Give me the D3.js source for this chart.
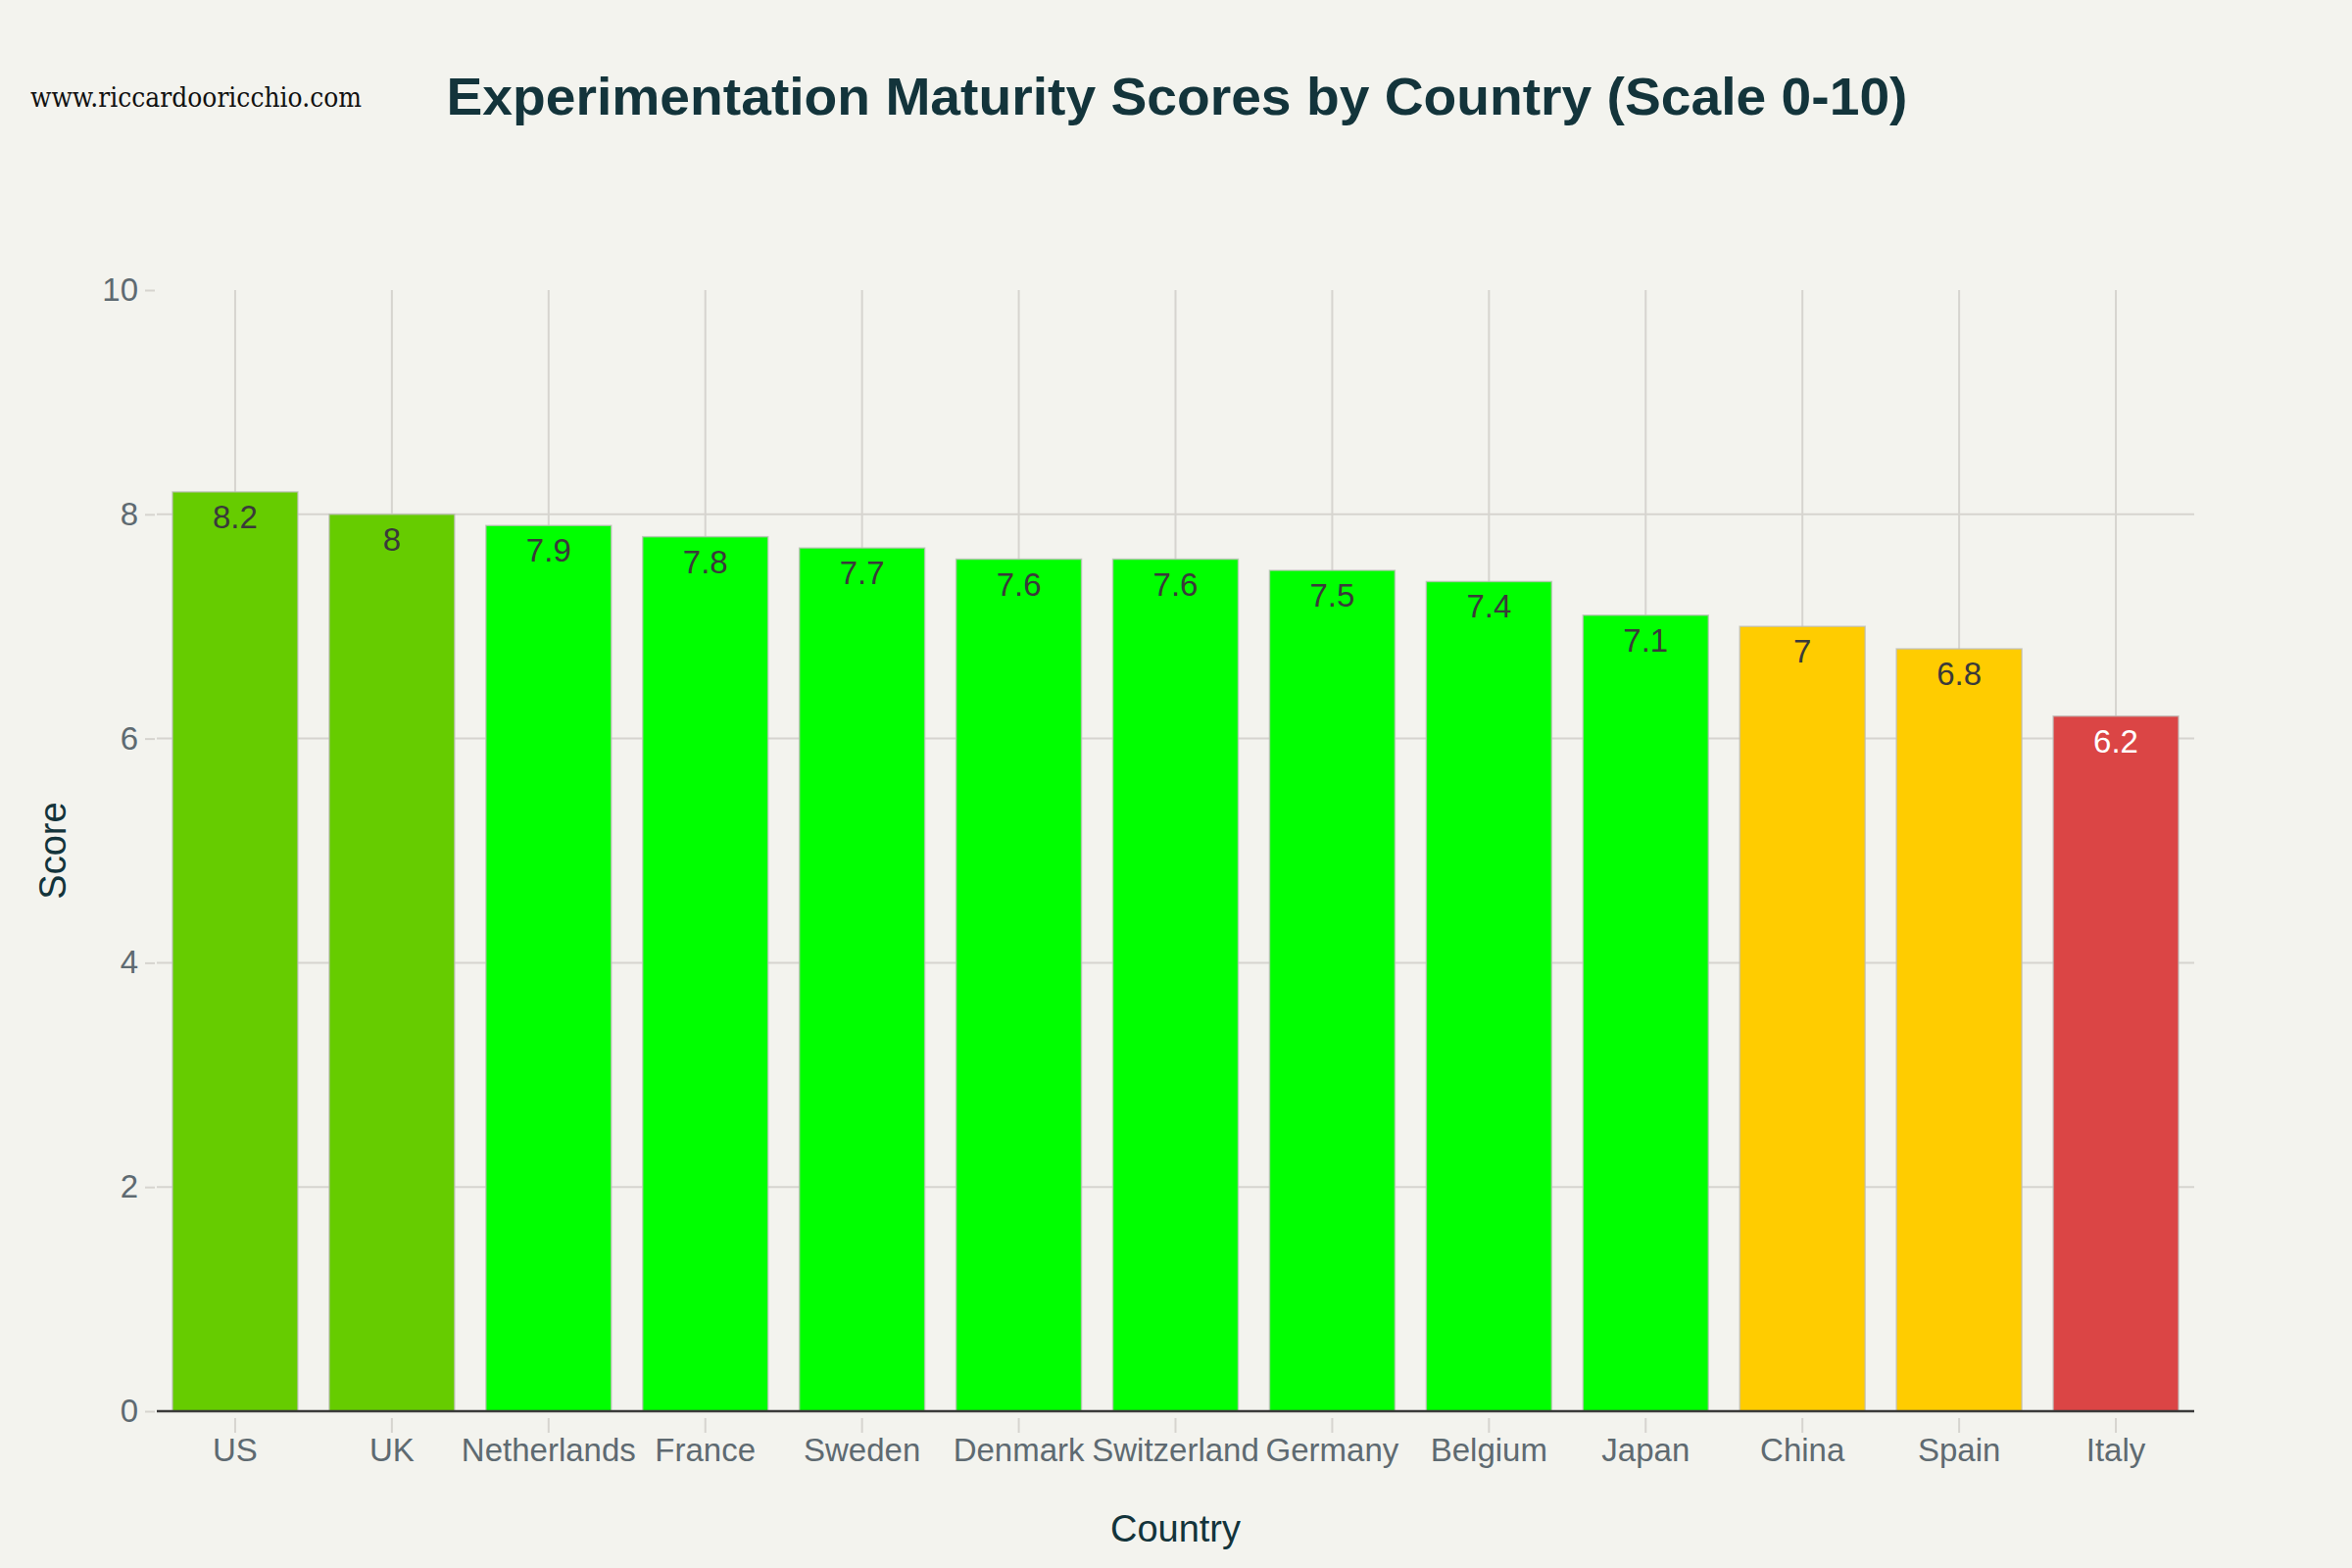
<!DOCTYPE html>
<html>
<head>
<meta charset="utf-8">
<script src="https://cdn.jsdelivr.net/npm/d3@7"></script>
<style>
  html, body { margin: 0; padding: 0; background: #F3F3EE; }
  svg { display: block; }
</style>
</head>
<body>
<svg id="chart" width="2400" height="1600"></svg>
<script>
const countries = ["US", "UK", "Netherlands", "France", "Sweden", "Denmark", "Switzerland", "Germany", "Belgium", "Japan", "China", "Spain", "Italy"];
const scores = [8.2, 8, 7.9, 7.8, 7.7, 7.6, 7.6, 7.5, 7.4, 7.1, 7, 6.8, 6.2];
const barColors = ["#66CC00", "#66CC00", "#00FF00", "#00FF00", "#00FF00", "#00FF00", "#00FF00", "#00FF00", "#00FF00", "#00FF00", "#FFCC00", "#FFCC00", "#DB4545"];
const labelColors = ["#3a3a3a", "#3a3a3a", "#3a3a3a", "#3a3a3a", "#3a3a3a", "#3a3a3a", "#3a3a3a", "#3a3a3a", "#3a3a3a", "#3a3a3a", "#3a3a3a", "#3a3a3a", "#ffffff"];
const yTicks = [0, 2, 4, 6, 8, 10];

const data = countries.map((c, i) => ({ country: c, score: scores[i], color: barColors[i], labelColor: labelColors[i] }));

const W = 2400, H = 1600;
const m = { left: 160, right: 2239, top: 296, bottom: 1440 };
const font = "'Liberation Sans', Arial, sans-serif";

const svg = d3.select("#chart");
svg.append("rect").attr("width", W).attr("height", H).attr("fill", "#F3F3EE");

const x = d3.scaleBand().domain(countries).range([m.left, m.right]).paddingInner(0.2).paddingOuter(0.1);
const y = d3.scaleLinear().domain([0, 10]).range([m.bottom, m.top]);

const gridColor = "#D6D4CF";

// vertical gridlines at category centers
svg.append("g").selectAll("line").data(countries).join("line")
  .attr("x1", d => x(d) + x.bandwidth() / 2).attr("x2", d => x(d) + x.bandwidth() / 2)
  .attr("y1", m.top).attr("y2", m.bottom)
  .attr("stroke", gridColor).attr("stroke-width", 2);

// horizontal gridlines
svg.append("g").selectAll("line").data(yTicks.filter(t => t > 0 && t < 10)).join("line")
  .attr("x1", m.left).attr("x2", m.right)
  .attr("y1", d => y(d)).attr("y2", d => y(d))
  .attr("stroke", gridColor).attr("stroke-width", 2);

// bars
svg.append("g").selectAll("rect").data(data).join("rect")
  .attr("x", d => x(d.country))
  .attr("width", x.bandwidth())
  .attr("y", d => y(d.score))
  .attr("height", d => y(0) - y(d.score))
  .attr("fill", d => d.color)
  .attr("stroke", "rgba(190,190,185,0.75)")
  .attr("stroke-width", 1.5);

// bar value labels
svg.append("g").selectAll("text").data(data).join("text")
  .attr("x", d => x(d.country) + x.bandwidth() / 2)
  .attr("y", d => y(d.score) + 37)
  .attr("text-anchor", "middle")
  .attr("font-family", font)
  .attr("font-size", 33)
  .attr("fill", d => d.labelColor)
  .text(d => String(d.score));

// zero line
svg.append("line")
  .attr("x1", m.left).attr("x2", m.right)
  .attr("y1", y(0)).attr("y2", y(0))
  .attr("stroke", "#3a3a3a").attr("stroke-width", 2.5);

// y axis
const yAxis = d3.axisLeft(y).tickValues(yTicks).tickSize(10).tickPadding(7).tickFormat(d3.format("d"));
const gy = svg.append("g").attr("transform", `translate(${m.left - 2},0)`).call(yAxis);
gy.select(".domain").remove();
gy.selectAll(".tick line").attr("stroke", gridColor).attr("stroke-width", 2);
gy.selectAll(".tick text").attr("font-family", font).attr("font-size", 33).attr("fill", "#5E6A71");

// x axis
const xAxis = d3.axisBottom(x).tickSize(15).tickPadding(6);
const gx = svg.append("g").attr("transform", `translate(0,${m.bottom + 7})`).call(xAxis);
gx.select(".domain").remove();
gx.selectAll(".tick line").attr("stroke", gridColor).attr("stroke-width", 2);
gx.selectAll(".tick text").attr("font-family", font).attr("font-size", 33).attr("fill", "#5E6A71");

// axis titles
svg.append("text")
  .attr("x", (m.left + m.right) / 2).attr("y", 1573)
  .attr("text-anchor", "middle")
  .attr("font-family", font).attr("font-size", 38).attr("fill", "#13343B")
  .text("Country");

svg.append("text")
  .attr("transform", `translate(67,${(m.top + m.bottom) / 2}) rotate(-90)`)
  .attr("text-anchor", "middle")
  .attr("font-family", font).attr("font-size", 38).attr("fill", "#13343B")
  .text("Score");

// title
svg.append("text")
  .attr("x", 1201).attr("y", 117)
  .attr("text-anchor", "middle")
  .attr("font-family", font).attr("font-weight", "bold").attr("font-size", 54).attr("fill", "#13343B")
  .attr("textLength", 1491).attr("lengthAdjust", "spacingAndGlyphs")
  .text("Experimentation Maturity Scores by Country (Scale 0-10)");

// watermark
svg.append("text")
  .attr("x", 31).attr("y", 109)
  .attr("font-family", "'DejaVu Serif', 'Liberation Serif', serif").attr("font-size", 27).attr("fill", "#111111")
  .attr("textLength", 338).attr("lengthAdjust", "spacingAndGlyphs")
  .text("www.riccardooricchio.com");
</script>
</body>
</html>
